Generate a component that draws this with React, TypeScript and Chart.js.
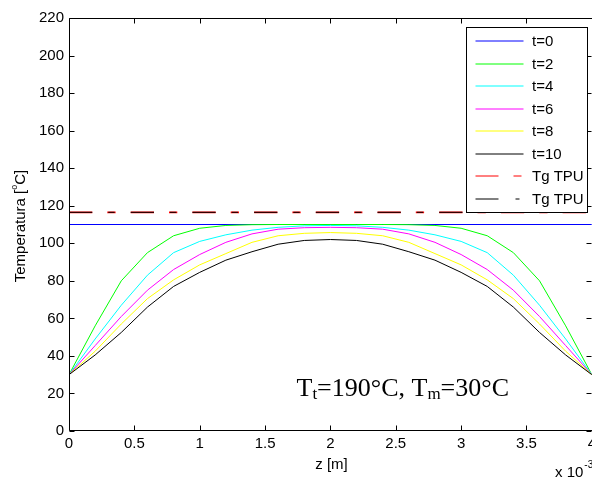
import React, { useEffect, useRef } from "react";
import { Chart, registerables } from "chart.js";

Chart.register(...registerables);

// z positions (x 10^-3 m)
const zGrid = [0, 0.2, 0.4, 0.6, 0.8, 1.0, 1.2, 1.4, 1.6, 1.8, 2.0, 2.2, 2.4, 2.6, 2.8, 3.0, 3.2, 3.4, 3.6, 3.8, 4.0];
const zFlat = [0, 4];

// temperatures [°C]
const tempT0 = [110, 110];
const tempT2 = [30, 56, 80, 95, 104, 108, 109.5, 109.9, 110, 110, 110, 110, 110, 109.9, 109.5, 108, 104, 95, 80, 56, 30];
const tempT4 = [30, 49, 67, 83, 95, 101, 104.5, 107, 108.5, 109.3, 109.5, 109.3, 108.5, 107, 104.5, 101, 95, 83, 67, 49, 30];
const tempT6 = [30, 45.5, 61, 75, 86, 94, 100.5, 105, 107.5, 108.3, 108.5, 108.3, 107.5, 105, 100.5, 94, 86, 75, 61, 45.5, 30];
const tempT8 = [30, 42.5, 57, 70.5, 80.5, 88.5, 94.5, 100.5, 104, 105.3, 105.7, 105.3, 104, 100.5, 94.5, 88.5, 80.5, 70.5, 57, 42.5, 30];
const tempT10 = [30, 40.5, 52.5, 66, 77, 84.5, 91, 95.5, 99.5, 101.5, 102, 101.5, 99.5, 95.5, 91, 84.5, 77, 66, 52.5, 40.5, 30];
const tgTPU = [116.5, 116.5];

const seriesLabels = ["t=0", "t=2", "t=4", "t=6", "t=8", "t=10", "Tg TPU", "Tg TPU"];
const seriesColors = ["#0000ff", "#00ff00", "#00ffff", "#ff00ff", "#ffff00", "#000000", "#ff0000", "#000000"];
const seriesX = [zFlat, zGrid, zGrid, zGrid, zGrid, zGrid, zFlat, zFlat];
const seriesY = [tempT0, tempT2, tempT4, tempT6, tempT8, tempT10, tgTPU, tgTPU];
const seriesWidth = [1, 1, 1, 1, 1, 1, 1.8, 1];
const seriesDash: number[][] = [[], [], [], [], [], [], [23.3, 15, 8.3, 15.1], [23.3, 16, 6.3, 16.1]];
const legendDash: number[][] = [[], [], [], [], [], [], [23, 15, 8, 100], [23, 17, 4, 100]];

const xMin = 0;
const xMax = 4;
const xStep = 0.5;
const yMin = 0;
const yMax = 220;
const yStep = 20;

const SANS = '"Liberation Sans", Arial, sans-serif';
const SERIF = '"Liberation Serif", "Times New Roman", serif';
const FS = 15;

const decorPlugin = {
  id: "decor",
  afterDraw(chart: any) {
    const ctx = chart.ctx as CanvasRenderingContext2D;
    const area = chart.chartArea;
    const xs = chart.scales.x;
    const ys = chart.scales.y;
    ctx.save();

    // axes box (right edge lies just outside the visible window)
    ctx.strokeStyle = "#000";
    ctx.lineWidth = 1;
    const L = Math.round(area.left) + 0.5;
    const T = Math.round(area.top) + 0.5;
    const R = Math.round(area.right) + 0.5;
    const B = Math.round(area.bottom) - 0.5;
    ctx.beginPath();
    ctx.moveTo(L, T);
    ctx.lineTo(R, T);
    ctx.lineTo(R, B);
    ctx.lineTo(L, B);
    ctx.closePath();
    ctx.stroke();

    // inward ticks
    ctx.beginPath();
    for (let v = xMin; v <= xMax + 1e-9; v += xStep) {
      const px = Math.round(xs.getPixelForValue(v)) + 0.5;
      ctx.moveTo(px, B);
      ctx.lineTo(px, B - 5);
      ctx.moveTo(px, T);
      ctx.lineTo(px, T + 5);
    }
    for (let v = yMin; v <= yMax + 1e-9; v += yStep) {
      const py = Math.round(ys.getPixelForValue(v)) + 0.5;
      ctx.moveTo(L, py);
      ctx.lineTo(L + 5, py);
      ctx.moveTo(R - 1, py);
      ctx.lineTo(R - 6, py);
    }
    ctx.stroke();

    // legend box
    const lx = 466.5, ly = 27.5, lw = 121, lh = 185;
    ctx.fillStyle = "#fff";
    ctx.fillRect(lx, ly, lw, lh);
    ctx.strokeStyle = "#000";
    ctx.strokeRect(lx, ly, lw, lh);
    ctx.font = `${FS}px ${SANS}`;
    ctx.textBaseline = "middle";
    ctx.textAlign = "left";
    chart.data.datasets.forEach((ds: any, i: number) => {
      const y = 41 + i * 22.5;
      ctx.strokeStyle = ds.borderColor;
      ctx.lineWidth = 1;
      ctx.setLineDash(legendDash[i]);
      ctx.beginPath();
      ctx.moveTo(475.5, Math.round(y));
      ctx.lineTo(523.5, Math.round(y));
      ctx.stroke();
      ctx.setLineDash([]);
      ctx.fillStyle = "#000";
      ctx.fillText(ds.label, 532, y + 1);
    });

    // annotation
    const base = 396;
    const big = `26px ${SERIF}`;
    const small = `17px ${SERIF}`;
    const parts: [string, string, number][] = [
      ["T", big, 0],
      ["t", small, 3],
      ["=190°C, T", big, 0],
      ["m", small, 3],
      ["=30°C", big, 0],
    ];
    let x = 296.5;
    ctx.textBaseline = "alphabetic";
    ctx.fillStyle = "#000";
    for (const [s, f, dy] of parts) {
      ctx.font = f;
      ctx.fillText(s, x, base + dy);
      x += ctx.measureText(s).width;
    }

    // y title
    ctx.save();
    ctx.translate(21, 226);
    ctx.rotate(-Math.PI / 2);
    const fMain = `${FS}px ${SANS}`;
    const fSup = `9px ${SANS}`;
    ctx.font = fMain;
    const w1 = ctx.measureText("Temperatura [").width;
    const w3 = ctx.measureText("C]").width;
    ctx.font = fSup;
    const w2 = ctx.measureText("o").width;
    const total = w1 + w2 + w3;
    let tx = -total / 2;
    ctx.textBaseline = "middle";
    ctx.font = fMain;
    ctx.fillText("Temperatura [", tx, 0);
    tx += w1;
    ctx.font = fSup;
    ctx.fillText("o", tx, -6);
    tx += w2;
    ctx.font = fMain;
    ctx.fillText("C]", tx, 0);
    ctx.restore();

    // x title
    ctx.font = `${FS}px ${SANS}`;
    ctx.textAlign = "center";
    ctx.textBaseline = "middle";
    ctx.fillText("z [m]", 331.5, 465);

    // exponent
    ctx.textAlign = "left";
    ctx.textBaseline = "alphabetic";
    ctx.fillText("x 10", 555, 477);
    const w10 = ctx.measureText("x 10").width;
    ctx.font = `10px ${SANS}`;
    ctx.fillText("-3", 555 + w10 + 1, 468);

    ctx.restore();
  },
};

export default function App() {
  const canvasRef = useRef<HTMLCanvasElement | null>(null);

  useEffect(() => {
    document.body.style.margin = "0";
    document.body.style.overflow = "hidden";
    const canvas = canvasRef.current;
    if (!canvas) return;

    const datasets = seriesLabels.map((label, i) => ({
      label,
      data: seriesX[i].map((z, k) => ({ x: z, y: seriesY[i][k] })),
      borderColor: seriesColors[i],
      backgroundColor: seriesColors[i],
      borderWidth: seriesWidth[i],
      borderDash: seriesDash[i],
      pointRadius: 0,
      tension: 0,
      fill: false,
      order: 10 - i,
    }));

    const chart = new Chart(canvas, {
      type: "line",
      data: { datasets },
      options: {
        responsive: false,
        animation: false,
        devicePixelRatio: 1,
        layout: { padding: { top: 18, right: 8, left: 0, bottom: 0 } },
        plugins: {
          legend: { display: false },
          tooltip: { enabled: false },
        },
        scales: {
          x: {
            type: "linear",
            min: xMin,
            max: xMax,
            grid: { display: false, drawTicks: false },
            border: { display: false },
            ticks: {
              stepSize: xStep,
              autoSkip: false,
              maxRotation: 0,
              color: "#000",
              padding: 4,
              font: { family: SANS, size: FS },
              callback: (v: any) => String(Math.round(Number(v) * 10) / 10),
            },
            afterFit: (s: any) => {
              s.height = 48;
            },
          },
          y: {
            type: "linear",
            min: yMin,
            max: yMax,
            grid: { display: false, drawTicks: false },
            border: { display: false },
            ticks: {
              stepSize: yStep,
              autoSkip: false,
              color: "#000",
              padding: 5,
              font: { family: SANS, size: FS },
            },
            afterFit: (s: any) => {
              s.width = 69;
            },
          },
        },
      },
      plugins: [decorPlugin],
    });

    return () => chart.destroy();
  }, []);

  return (
    <div style={{ width: 592, height: 479, overflow: "hidden", background: "#fff" }}>
      <canvas ref={canvasRef} width={600} height={479} style={{ display: "block" }} />
    </div>
  );
}
